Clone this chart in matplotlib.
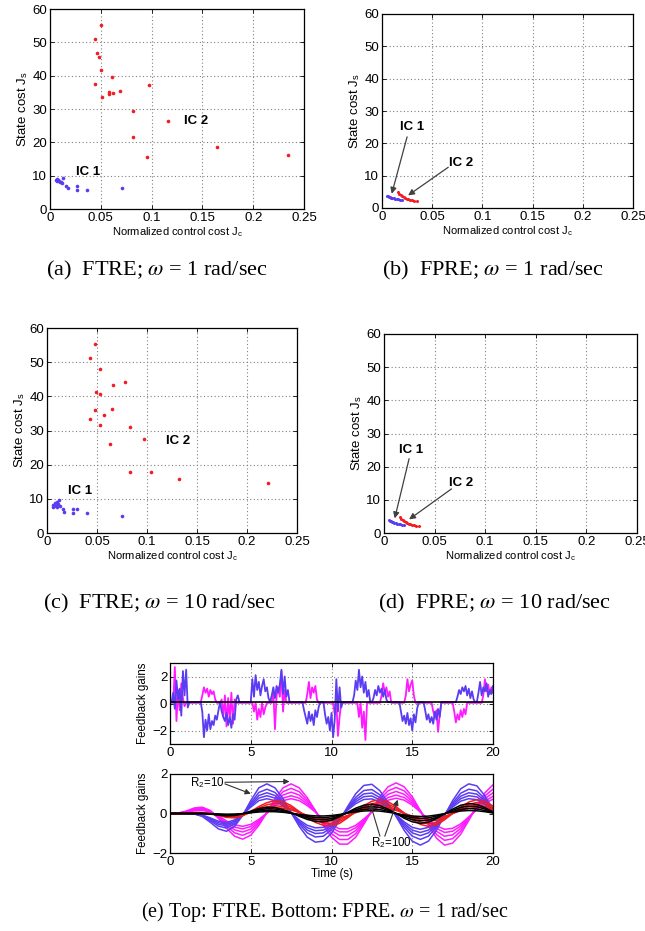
import matplotlib

matplotlib.use("Agg")
import matplotlib.pyplot as plt
import numpy as np

plt.rcParams["font.family"] = ["Liberation Sans", "DejaVu Sans"]
plt.rcParams["mathtext.fontset"] = "stix"

BLUE = "#5a3cf2"
RED = "#f21c24"
MAGENTA = "#ff1aff"

# ---- Pareto scatter data: (Jc, Js) per initial condition ----
A_IC2_JC = [0.0443, 0.0499, 0.0466, 0.0486, 0.0499, 0.0446, 0.0614, 0.0509, 0.0581, 0.0584,
            0.0617, 0.0686, 0.0978, 0.0820, 0.0817, 0.0955, 0.1165, 0.1640, 0.2346]
A_IC2_JS = [51.0, 55.3, 46.8, 45.6, 41.8, 37.6, 39.5, 33.6, 35.0, 34.6,
            34.7, 35.5, 37.1, 29.3, 21.7, 15.5, 26.3, 18.5, 16.2]
A_IC1_JC = [0.0059, 0.0066, 0.0072, 0.0082, 0.0090, 0.0098, 0.0105, 0.0115, 0.0131, 0.0157,
            0.0180, 0.0269, 0.0269, 0.0367, 0.0712]
A_IC1_JS = [8.7, 8.4, 8.9, 8.7, 8.3, 8.2, 8.0, 7.9, 9.4, 7.0,
            6.2, 6.9, 5.7, 5.7, 6.2]

C_IC2_JC = [0.0480, 0.0427, 0.0527, 0.0487, 0.0533, 0.0660, 0.0783, 0.0480, 0.0653, 0.0433,
            0.0567, 0.0527, 0.0833, 0.0633, 0.0973, 0.0827, 0.1037, 0.1320, 0.2207]
C_IC2_JS = [55.4, 51.1, 48.0, 41.4, 40.8, 43.3, 44.1, 36.1, 36.3, 33.4,
            34.5, 31.5, 31.0, 26.0, 27.5, 17.8, 17.8, 15.9, 14.6]
C_IC1_JC = [0.0057, 0.0063, 0.0080, 0.0090, 0.0097, 0.0103, 0.0113, 0.0117, 0.0130, 0.0163,
            0.0170, 0.0257, 0.0260, 0.0297, 0.0400, 0.0747]
C_IC1_JS = [7.7, 8.2, 8.7, 7.9, 9.2, 7.5, 8.5, 9.6, 7.9, 6.9,
            6.2, 6.9, 6.0, 6.9, 5.8, 5.1]

# FPRE: dense short fronts
B_IC1_JC = [0.0050, 0.0060, 0.0070, 0.0080, 0.0090, 0.0100, 0.0115, 0.0130, 0.0145, 0.0160, 0.0180, 0.0200]
B_IC1_JS = [3.8, 3.6, 3.5, 3.35, 3.2, 3.1, 2.95, 2.85, 2.75, 2.65, 2.55, 2.45]
B_IC2_JC = [0.0156, 0.0170, 0.0185, 0.0199, 0.0215, 0.0230, 0.0245, 0.0260, 0.0275, 0.0298, 0.0320, 0.0345]
B_IC2_JS = [4.8, 4.3, 3.9, 3.6, 3.3, 3.05, 2.85, 2.7, 2.55, 2.4, 2.2, 2.05]

# ---- FTRE feedback gains, sampled every 0.1 s ----
T_FTRE = np.arange(201) / 10.0
FTRE_BLUE = [
    0.1, 0.1, 0.8, -0.4, 1.7, 0.3, 1.1, -0.9, 2.4, 0.6,
    2.5, -0.3, 0.1, 0.1, 0.1, 0.1, 0.1, 0.1, 0.1, 0.1,
    -0.6, -2.5, -1.2, -2.0, -0.8, -1.9, -1.3, -1.6, -0.9, -1.2,
    -0.5, 0.1, -0.6, -1.0, -1.3, -0.7, -1.6, -1.0, -1.8, -0.8,
    -1.2, 0.3, 0.6, 0.1, 0.1, 0.1, 0.1, 0.1, 0.1, 0.1,
    0.1, 1.8, 0.5, 2.1, 1.0, 1.6, 0.6, 1.3, 1.8, 0.9,
    1.2, 0.4, 0.1, 0.6, 1.2, 0.4, 1.3, 0.8, 1.4, 2.5,
    0.7, 2.0, 0.5, 1.0, 0.1, 0.1, 0.1, 0.1, 0.1, 0.1,
    0.1, 0.1, 0.1, -0.5, -1.0, -1.5, -0.6, -1.3, -0.8, -1.6,
    -0.5, -1.0, -0.3, 0.1, 0.1, 0.1, -0.8, -1.5, -1.0, -2.0,
    -0.7, -2.5, -1.2, 1.8, -0.6, 1.2, -0.3, 0.1, 0.1, 0.1,
    0.1, 0.1, 0.1, 0.1, 0.6, 1.7, 1.0, 2.5, 1.2, 2.0,
    0.8, 1.6, 0.5, 1.0, 0.1, 0.1, 0.4, 1.0, 0.6, 1.3,
    0.8, 1.1, 0.5, 1.0, 0.3, 0.1, 0.1, 0.1, 0.1, 0.1,
    0.1, 0.1, 0.1, -0.6, -1.3, -0.9, -1.5, -0.7, -1.6, -1.1,
    -2.0, -0.8, -1.4, -0.4, 0.1, 0.1, 0.1, 0.1, -0.5, -1.2,
    -0.8, -1.4, -1.0, -1.5, -0.6, -1.2, -0.4, -1.0, 0.1, 0.1,
    0.1, 0.1, 0.1, 0.1, 0.1, 0.1, 0.1, 0.1, 0.5, 1.0,
    0.7, 1.2, 0.9, 1.3, 0.6, 1.1, 0.4, 0.9, 0.3, 0.1,
    0.1, 0.8, 1.6, 0.6, 1.2, 0.9, 1.5, 0.5, 1.0, 0.7,
    1.3,
]
FTRE_MAGENTA = [
    0.05, 0.05, 0.05, 2.7, -1.3, 1.0, -0.5, 1.5, 0.4, -0.2,
    0.05, 0.05, 0.05, 0.05, 0.05, 0.05, 0.05, 0.05, 0.05, 0.05,
    0.6, 1.2, 0.8, 1.1, 0.5, 1.0, 0.7, 0.9, 0.3, 0.05,
    0.05, 0.05, 0.3, -1.0, 0.6, -1.7, 0.4, -1.2, 0.8, -1.5,
    0.3, 0.05, 0.05, 0.05, 0.05, 0.05, 0.05, 0.05, 0.05, 0.05,
    0.05, 0.05, -0.6, 0.05, -1.2, -0.4, -1.0, 0.05, -0.8, -0.3,
    0.05, 0.05, 0.05, 0.05, 0.8, -1.9, 0.6, 1.2, 0.5, 2.4,
    -0.6, 1.0, 0.05, 0.05, 0.05, 0.05, 0.05, 0.05, 0.05, 0.05,
    0.05, 0.05, 0.05, 0.05, 0.05, 0.7, 1.6, 0.4, 1.2, 0.8,
    1.3, 0.3, 0.05, 0.05, 0.05, 0.05, 0.05, 0.05, 0.05, 0.05,
    0.05, 0.05, -0.8, 0.05, -2.4, -1.0, 0.05, 0.05, 0.05, 0.05,
    0.05, 0.05, 0.05, 0.05, 0.05, 0.05, 0.05, -1.0, 0.05, -1.8,
    -0.6, -2.7, 0.05, 0.05, 0.05, 0.05, 0.05, 0.05, 0.05, 0.05,
    0.05, 0.6, 1.5, 0.8, 1.2, 0.5, 0.9, 0.05, 0.05, 0.05,
    0.05, 0.05, 0.05, 0.05, 0.05, 0.05, 0.6, 1.8, 0.9, 1.4,
    1.7, 0.6, 0.05, 0.05, 0.05, 0.05, 0.05, 0.05, 0.05, 0.05,
    0.05, 0.05, 0.05, -0.6, -1.0, -0.5, -2.1, -0.8, 0.05, 0.05,
    0.05, 0.05, 0.05, 0.05, 0.05, 0.05, -0.6, -1.4, -0.8, -1.2,
    -0.5, -1.0, -0.4, -0.8, 0.05, 0.05, 0.05, 0.05, 0.05, 0.05,
    0.05, 0.05, 0.05, 0.05, 0.6, 1.8, 0.9, 1.4, 0.7, 1.2,
    0.8,
]

# ---- FPRE feedback gains, sampled every 0.5 s (largest curve of each family) ----
T_FPRE = np.arange(41) * 0.5
FPRE_BLUE = [0.0, 0.0, 0.0, -0.02, -0.15, -0.45, -0.78, -0.9, -0.65, -0.1,
             0.65, 1.3, 1.5, 1.3, 0.75, 0.05, -0.65, -1.2, -1.45, -1.4,
             -1.0, -0.35, 0.35, 1.0, 1.42, 1.48, 1.15, 0.55, -0.15, -0.85,
             -1.4, -1.6, -1.4, -0.85, -0.1, 0.65, 1.25, 1.5, 1.4, 0.9, 0.2]
FPRE_MAGENTA = [0.0, 0.02, 0.12, 0.28, 0.32, 0.15, -0.25, -0.75, -1.15, -1.3,
                -1.1, -0.6, 0.05, 0.75, 1.3, 1.5, 1.3, 0.8, 0.15, -0.6,
                -1.2, -1.55, -1.55, -1.2, -0.55, 0.15, 0.85, 1.35, 1.55, 1.35,
                0.85, 0.15, -0.6, -1.25, -1.6, -1.5, -1.05, -0.35, 0.4, 1.05, 1.45]
FPRE_RED = [0.0, 0.0, 0.02, 0.05, 0.05, 0.0, -0.1, -0.2, -0.22, -0.12,
            0.1, 0.35, 0.55, 0.65, 0.6, 0.4, 0.1, -0.2, -0.45, -0.6,
            -0.62, -0.5, -0.22, 0.1, 0.4, 0.62, 0.7, 0.6, 0.35, 0.02,
            -0.3, -0.55, -0.65, -0.58, -0.32, 0.0, 0.32, 0.58, 0.7, 0.62, 0.38]
FPRE_BLACK = [0.0, 0.0, 0.0, 0.0, 0.0, -0.03, -0.08, -0.12, -0.1, -0.02,
              0.12, 0.25, 0.32, 0.3, 0.2, 0.04, -0.14, -0.3, -0.4, -0.42,
              -0.34, -0.16, 0.06, 0.27, 0.42, 0.47, 0.4, 0.22, 0.0, -0.24,
              -0.42, -0.5, -0.44, -0.26, -0.02, 0.22, 0.42, 0.5, 0.46, 0.3, 0.08]
# relative size of each gain within a family
BLUE_SCALES = [1.0, 0.82, 0.7, 0.6, 0.5]
MAGENTA_SCALES = [1.0, 0.85, 0.72, 0.6, 0.5]
RED_SCALES = [1.0, 0.8, 0.6, 0.45]
BLACK_SCALES = [1.0, 0.75, 0.5, 0.3]

JC_TICKS = [0, 0.05, 0.1, 0.15, 0.2, 0.25]
JC_LABELS = ["0", "0.05", "0.1", "0.15", "0.2", "0.25"]
JS_TICKS = [0, 10, 20, 30, 40, 50, 60]

TICK_FS = 9.5
XLAB_FS = 8
YLAB_FS = 9.5
IC_FS = 9.5
E_TICK_FS = 9.5
E_LAB_FS = 8.3
CAP_FS = 16


def matlab_axes(ax, fs=TICK_FS):
    ax.tick_params(direction="in", top=True, right=True, length=3, width=0.6,
                   labelsize=fs, pad=2)
    ax.grid(True, linestyle=(0, (1, 2.2)), color="0.5", linewidth=0.8)
    for s in ax.spines.values():
        s.set_linewidth(0.9)


def pareto(ax, ic1, ic2, dense=False):
    ms = 2.2 if dense else 2.6
    ax.plot(ic2[0], ic2[1], "o", color=RED, ms=ms, mec="none")
    ax.plot(ic1[0], ic1[1], "o", color=BLUE, ms=ms, mec="none")
    ax.set_xlim(0, 0.25)
    ax.set_ylim(0, 60)
    ax.set_xticks(JC_TICKS)
    ax.set_xticklabels(JC_LABELS)
    ax.set_yticks(JS_TICKS)
    ax.set_xlabel("Normalized control cost J$_\\mathregular{c}$", fontsize=XLAB_FS, labelpad=1)
    ax.set_ylabel("State cost J$_\\mathregular{s}$", fontsize=YLAB_FS, labelpad=2)
    matlab_axes(ax)


def fpre_labels(ax, ic1_txt, ic1_tail, ic1_tip, ic2_txt, ic2_tail, ic2_tip):
    ap = dict(arrowstyle="-|>", color="0.25", lw=0.9, mutation_scale=9, shrinkA=0, shrinkB=0)
    ax.text(*ic1_txt, "IC 1", fontsize=IC_FS, fontweight="bold", ha="center", va="center")
    ax.annotate("", xy=ic1_tip, xytext=ic1_tail, arrowprops=ap)
    ax.text(*ic2_txt, "IC 2", fontsize=IC_FS, fontweight="bold", ha="center", va="center")
    ax.annotate("", xy=ic2_tip, xytext=ic2_tail, arrowprops=ap)


W, H = 645, 931
fig = plt.figure(figsize=(W / 100, H / 100), dpi=100)


def box(x0, y0, x1, y1):
    return [x0 / W, 1 - y1 / H, (x1 - x0) / W, (y1 - y0) / H]


# (a) FTRE, w = 1
ax_a = fig.add_axes(box(50, 9, 304, 209))
pareto(ax_a, (A_IC1_JC, A_IC1_JS), (A_IC2_JC, A_IC2_JS))
ax_a.text(0.0377, 11.0, "IC 1", fontsize=IC_FS, fontweight="bold", ha="center", va="center")
ax_a.text(0.144, 26.3, "IC 2", fontsize=IC_FS, fontweight="bold", ha="center", va="center")

# (b) FPRE, w = 1
ax_b = fig.add_axes(box(382, 14, 633, 208))
pareto(ax_b, (B_IC1_JC, B_IC1_JS), (B_IC2_JC, B_IC2_JS), dense=True)
fpre_labels(ax_b, (0.0296, 25.2), (0.025, 22.0), (0.0097, 4.4),
            (0.079, 13.8), (0.066, 12.6), (0.026, 3.9))

# (c) FTRE, w = 10
ax_c = fig.add_axes(box(47, 328, 297, 533))
pareto(ax_c, (C_IC1_JC, C_IC1_JS), (C_IC2_JC, C_IC2_JS))
ax_c.text(0.0327, 12.2, "IC 1", fontsize=IC_FS, fontweight="bold", ha="center", va="center")
ax_c.text(0.131, 26.8, "IC 2", fontsize=IC_FS, fontweight="bold", ha="center", va="center")

# (d) FPRE, w = 10
ax_d = fig.add_axes(box(384, 334, 637, 533))
pareto(ax_d, (B_IC1_JC, B_IC1_JS), (B_IC2_JC, B_IC2_JS), dense=True)
fpre_labels(ax_d, (0.027, 24.9), (0.0248, 22.4), (0.0106, 4.4),
            (0.0766, 15.2), (0.0667, 13.3), (0.0248, 4.1))

# (e) top: FTRE gains
ax_e1 = fig.add_axes(box(170, 663, 493, 744))
ax_e1.plot(T_FTRE, FTRE_MAGENTA, color=MAGENTA, lw=1.3)
ax_e1.plot(T_FTRE, FTRE_BLUE, color=BLUE, lw=1.3)
ax_e1.axhline(0.12, color="k", lw=1.2)
ax_e1.set_xlim(0, 20)
ax_e1.set_ylim(-3, 3)
ax_e1.set_xticks([0, 5, 10, 15, 20])
ax_e1.set_yticks([-2, 0, 2])
ax_e1.set_ylabel("Feedback gains", fontsize=E_LAB_FS, labelpad=2)
matlab_axes(ax_e1, fs=E_TICK_FS)

# (e) bottom: FPRE gains
ax_e2 = fig.add_axes(box(170, 774, 493, 853))
for wave, scales, col in ((FPRE_MAGENTA, MAGENTA_SCALES, MAGENTA),
                          (FPRE_BLUE, BLUE_SCALES, BLUE),
                          (FPRE_RED, RED_SCALES, RED),
                          (FPRE_BLACK, BLACK_SCALES, "k")):
    for s in scales:
        ax_e2.plot(T_FPRE, np.asarray(wave) * s, color=col, lw=1.1)
ax_e2.set_xlim(0, 20)
ax_e2.set_ylim(-2, 2)
ax_e2.set_xticks([0, 5, 10, 15, 20])
ax_e2.set_yticks([-2, 0, 2])
ax_e2.set_ylabel("Feedback gains", fontsize=E_LAB_FS, labelpad=2)
ax_e2.set_xlabel("Time (s)", fontsize=E_LAB_FS, labelpad=0)
matlab_axes(ax_e2, fs=E_TICK_FS)
ax_e2.grid(True, axis="y", linestyle="none")
ap = dict(arrowstyle="-|>", color="0.2", lw=0.8, mutation_scale=8, shrinkA=0, shrinkB=0)
ax_e2.text(2.3, 1.55, "R$_\\mathregular{2}$=10", fontsize=E_LAB_FS, ha="center", va="center")
ax_e2.annotate("", xy=(5.0, 1.0), xytext=(3.4, 1.5), arrowprops=ap)
ax_e2.annotate("", xy=(7.4, 1.62), xytext=(3.4, 1.58), arrowprops=ap)
ax_e2.text(13.7, -1.5, "R$_\\mathregular{2}$=100", fontsize=E_LAB_FS, ha="center", va="center")
ax_e2.annotate("", xy=(12.4, 0.5), xytext=(13.0, -1.15), arrowprops=ap)
ax_e2.annotate("", xy=(14.1, 0.7), xytext=(13.3, -1.15), arrowprops=ap)

# captions
cap = dict(fontsize=CAP_FS, family=["Liberation Serif", "DejaVu Serif"], ha="center", va="center")
fig.text(157 / W, 1 - 270 / H, "(a)  FTRE; $\\omega$ = 1 rad/sec", **cap)
fig.text(493 / W, 1 - 270 / H, "(b)  FPRE; $\\omega$ = 1 rad/sec", **cap)
fig.text(160 / W, 1 - 603 / H, "(c)  FTRE; $\\omega$ = 10 rad/sec", **cap)
fig.text(495 / W, 1 - 603 / H, "(d)  FPRE; $\\omega$ = 10 rad/sec", **cap)
fig.text(325 / W, 1 - 912 / H, "(e) Top: FTRE. Bottom: FPRE. $\\omega$ = 1 rad/sec",
         **dict(cap, fontsize=14.5))

fig.savefig("out.png", dpi=100)
